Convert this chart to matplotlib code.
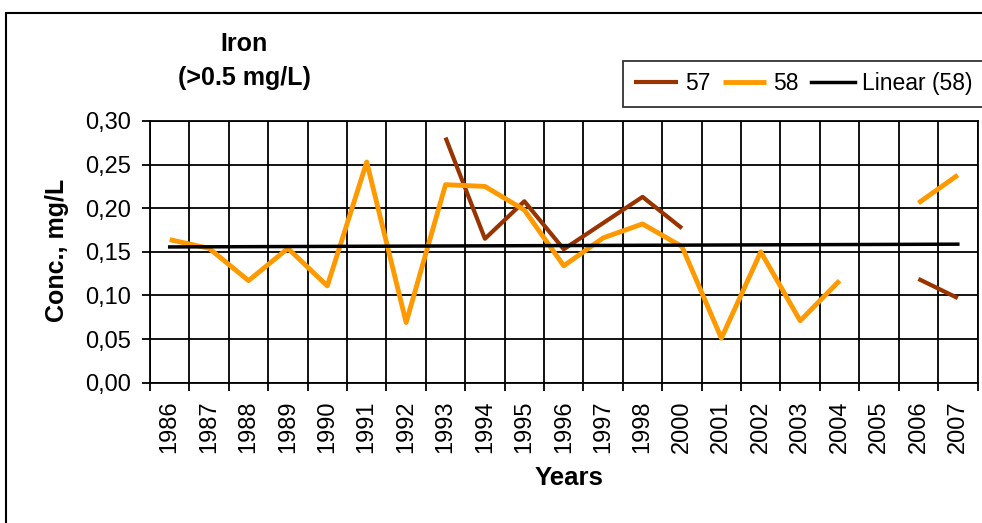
import numpy as np
import matplotlib
matplotlib.use("Agg")
import matplotlib.pyplot as plt
from matplotlib.patches import Rectangle

plt.rcParams['font.family'] = ['Liberation Sans', 'DejaVu Sans']

# years on the category axis (1999 is missing in the source chart)
years = ["1986", "1987", "1988", "1989", "1990", "1991", "1992", "1993",
         "1994", "1995", "1996", "1997", "1998", "2000", "2001", "2002",
         "2003", "2004", "2005", "2006", "2007"]

nan = np.nan
conc_57 = [nan, nan, nan, nan, nan, nan, nan, 0.281,
           0.165, 0.208, 0.153, 0.183, 0.213, 0.177, nan, nan,
           nan, nan, nan, 0.119, 0.097]
conc_58 = [0.164, 0.154, 0.117, 0.154, 0.111, 0.253, 0.069, 0.227,
           0.225, 0.198, 0.134, 0.166, 0.182, 0.156, 0.051, 0.150,
           0.071, 0.117, nan, 0.206, 0.238]

y_ticks = [0.0, 0.05, 0.10, 0.15, 0.20, 0.25, 0.30]

x = np.arange(len(years))
s57 = np.array(conc_57)
s58 = np.array(conc_58)

# linear trendline of series 58 (like excel, on category positions)
ok = ~np.isnan(s58)
k, b = np.polyfit(x[ok] + 1, s58[ok], 1)
trend = k * (x + 1) + b

fig = plt.figure(figsize=(9.82, 5.23), dpi=100)
ax = fig.add_axes([150 / 982, 1 - 382.7 / 523, 827.5 / 982, 261.7 / 523])

ax.plot(x, s57, color="#993300", lw=3.0, label="57", solid_capstyle="butt")
ax.plot(x, s58, color="#FF9900", lw=3.5, label="58", solid_capstyle="butt")
ax.plot(x, trend, color="black", lw=2.5, label="Linear (58)")

ax.set_xlim(-0.5, len(years) - 0.5)
ax.set_ylim(0, 0.30)

# gridlines on category boundaries, labels in the middle
ax.set_xticks(np.arange(len(years) + 1) - 0.5)
ax.set_xticklabels([])
ax.set_xticks(x, minor=True)
ax.set_xticklabels(years, minor=True, rotation=90, fontsize=17)
ax.tick_params(axis="x", which="minor", length=0, pad=13)
ax.tick_params(axis="x", which="major", length=6, width=1.3, direction="out")

ax.set_yticks(y_ticks)
ax.set_yticklabels(["{:.2f}".format(v).replace(".", ",") for v in y_ticks], fontsize=17)
ax.tick_params(axis="y", length=6, width=1.3, direction="out", pad=8)

ax.grid(True, which="major", color="black", lw=1.3)
ax.set_axisbelow(True)
for sp in ax.spines.values():
    sp.set_linewidth(1.3)
    sp.set_color("black")

fig.text(57 / 982, 1 - 250 / 523, "Conc., mg/L", rotation=90, ha="center",
         va="center", fontsize=18, fontweight="bold")
fig.text(569 / 982, 1 - 478 / 523, "Years", ha="center", va="center",
         fontsize=18.5, fontweight="bold")
fig.text(244 / 982, 1 - 44 / 523, "Iron", ha="center", va="center",
         fontsize=18, fontweight="bold")
fig.text(244 / 982, 1 - 78 / 523, "(>0.5 mg/L)", ha="center", va="center",
         fontsize=18, fontweight="bold")

leg = ax.legend(loc="upper left", bbox_to_anchor=(623 / 982, 1 - 61 / 523),
                bbox_transform=fig.transFigure, ncol=3, fontsize=16.5,
                frameon=True, fancybox=False, edgecolor="black",
                handlelength=1.9, handletextpad=0.3, columnspacing=0.55,
                borderpad=0.5, borderaxespad=0)
leg.get_frame().set_linewidth(1.3)

# outer chart border (cut off at the right and bottom)
fig.patches.append(Rectangle((6 / 982, -0.2), 1.2, 1.2 - 13 / 523,
                             transform=fig.transFigure, fill=False,
                             edgecolor="black", lw=1.5))

fig.savefig("out.png", dpi=100)
